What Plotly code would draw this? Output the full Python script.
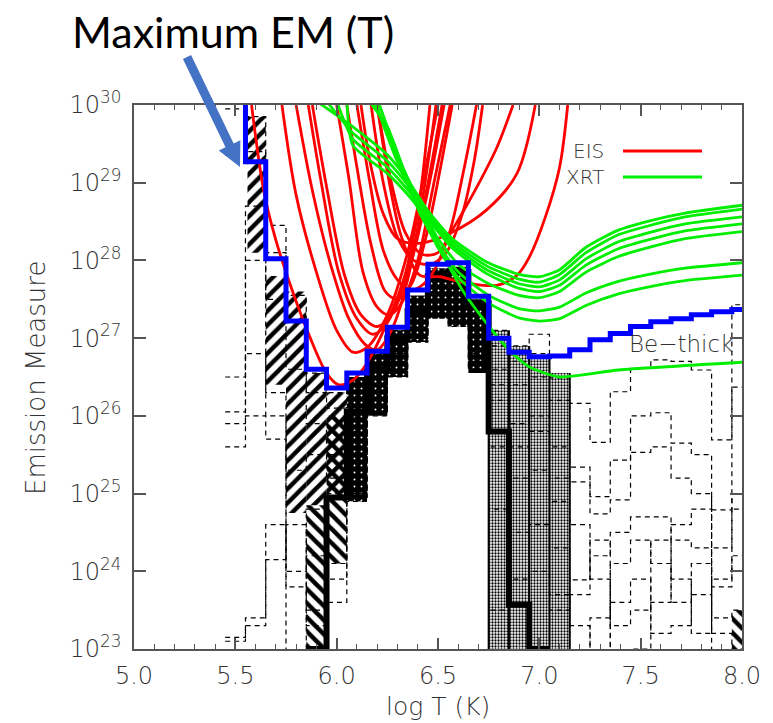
import numpy as np
import plotly.graph_objects as go

# ---------------------------------------------------------------------------
# Data (log10 of emission measure, cm^-5, versus log10 T)
# ---------------------------------------------------------------------------
BIN_EDGES = np.round(np.arange(5.45, 8.051, 0.1), 2)          # 27 edges, 26 bins (5.5 ... 8.0)

# Maximum EM(T) allowed by the observations (blue histogram); first bin lies above the frame
max_em = [31.0, 29.27, 28.02, 27.22, 26.60, 26.36, 26.55, 26.83, 27.14, 27.62, 27.95, 27.97,
          27.54, 27.00, 26.82, 26.76, 26.77, 26.85, 26.98, 27.06, 27.15, 27.21, 27.25, 27.30,
          27.34, 27.37]

# Best-fit DEM solution (thick black histogram), bins 5.9 ... 7.0
best_edges = np.round(np.arange(5.85, 7.051, 0.1), 2)
best_em = [23.0, 24.95, 26.05, 26.60, 27.00, 27.35, 27.80, 27.85, 27.45, 25.80, 23.57, 23.0]

# Monte-Carlo realisations (dashed histograms), bins 5.5 ... 8.0
mc_runs = [
    [29.95, 29.85, 28.45, 27.55, 26.55, 26.30, 26.45, 26.80, 27.10, 27.50, 27.85, 27.90, 27.45,
     27.10, 26.90, 27.05, 26.49, 26.16, 25.66, 26.31, 26.61, 26.72, 26.70, 26.59, 25.69, 27.43],
    [29.35, 29.40, 28.10, 27.20, 26.30, 26.10, 26.30, 26.60, 27.00, 27.40, 27.75, 27.80, 27.30,
     26.90, 26.70, 26.80, 26.20, 25.34, 24.96, 25.43, 26.00, 26.04, 25.65, 25.50, 24.79, 26.37],
    [26.05, 28.70, 27.50, 26.60, 25.90, 25.50, 26.00, 26.40, 26.80, 27.20, 27.50, 27.60, 27.10,
     26.60, 26.40, 26.50, 25.60, 25.15, 24.74, 24.92, 25.53, 25.60, 25.20, 25.00, 24.30, 25.00],
    [25.60, 28.00, 26.00, 25.30, 25.50, 25.20, 25.40, 26.20, 26.70, 27.10, 27.40, 27.35, 26.80,
     26.20, 25.90, 26.00, 24.90, 23.89, 24.20, 24.50, 24.70, 24.70, 24.40, 24.30, 23.80, 24.20],
    [23.15, 23.40, 24.15, 24.60, 23.50, 24.10, 25.00, 26.00, 26.50, 26.95, 27.30, 27.20, 26.60,
     25.60, 25.20, 25.30, 24.30, 22.50, 23.40, 24.10, 24.40, 24.10, 23.60, 24.10, 23.40, 23.50],
    [26.50, 26.80, 26.30, 22.50, 24.20, 23.60, 24.90, 26.10, 26.55, 27.00, 27.30, 27.15, 26.60,
     24.80, 24.50, 24.60, 23.70, 23.30, 22.50, 23.60, 23.90, 23.20, 23.30, 23.70, 22.50, 22.50],
    [25.90, 26.00, 25.70, 24.00, 24.80, 25.00, 25.80, 26.30, 26.80, 27.30, 27.60, 27.50, 27.00,
     26.40, 25.60, 25.80, 25.20, 24.60, 23.90, 23.30, 23.50, 24.40, 23.90, 23.20, 23.90, 24.80],
    [23.10, 23.30, 24.60, 23.80, 23.30, 23.90, 24.95, 26.05, 26.60, 27.00, 27.30, 27.30, 26.70,
     23.50, 23.90, 24.00, 23.50, 23.70, 24.40, 22.50, 23.00, 23.60, 24.60, 24.80, 23.20, 23.00],
]

# Spread of the Monte-Carlo solutions: densely populated band (bins 6.1 ... 6.7)
dense_edges = np.round(np.arange(6.05, 6.751, 0.1), 2)
dense_lo = [24.90, 26.00, 26.50, 26.95, 27.25, 27.15, 26.55]
dense_hi = [26.50, 26.80, 27.10, 27.55, 27.90, 27.92, 27.50]
# ... and the speckled columns reaching the floor (bins 6.8 ... 7.1)
speckle_edges = np.round(np.arange(6.75, 7.151, 0.1), 2)
speckle_lo = [23.0, 23.0, 23.0, 23.0]
speckle_hi = [27.10, 26.90, 26.75, 26.55]

# Hatched ranges of the low-temperature solutions
fwd_hatch_x0 = [5.56, 5.65, 5.75, 5.85, 5.95]
fwd_hatch_x1 = [5.65, 5.75, 5.85, 5.95, 6.05]
fwd_hatch_lo = [28.10, 26.40, 24.75, 24.85, 25.00]
fwd_hatch_hi = [29.85, 27.80, 27.60, 26.55, 26.30]
back_hatch_x0 = [5.85, 5.95, 6.05, 7.95]
back_hatch_x1 = [5.95, 6.05, 6.15, 8.00]
back_hatch_lo = [23.00, 24.10, 24.90, 23.00]
back_hatch_hi = [24.85, 26.00, 25.60, 23.50]

# EIS emission-measure loci (log T, log EM)
eis_loci = [
    ([5.58, 5.64, 5.70, 5.78, 5.87, 5.95, 6.01, 6.08, 6.15, 6.26, 6.34, 6.41, 6.46],
     [30.0, 28.90, 28.26, 27.62, 27.00, 26.55, 26.40, 26.46, 26.68, 27.27, 27.84, 28.80, 30.0]),
    ([5.73, 5.80, 5.90, 6.00, 6.08, 6.15, 6.25, 6.35, 6.44, 6.50],
     [30.0, 28.84, 27.85, 27.10, 26.82, 26.88, 27.30, 28.10, 29.20, 30.0]),
    ([5.80, 5.88, 5.97, 6.06, 6.14, 6.20, 6.27, 6.35, 6.43, 6.49],
     [30.0, 28.90, 27.95, 27.25, 26.92, 26.85, 27.10, 27.75, 28.90, 30.0]),
    ([5.86, 5.92, 6.01, 6.10, 6.18, 6.25, 6.33, 6.42, 6.52],
     [30.0, 29.06, 27.85, 27.25, 27.05, 27.20, 27.70, 28.60, 30.0]),
    ([5.88, 5.95, 6.04, 6.12, 6.20, 6.28, 6.36, 6.45, 6.53],
     [30.0, 28.95, 27.80, 27.30, 27.15, 27.35, 27.90, 28.90, 30.0]),
    ([6.00, 6.06, 6.13, 6.20, 6.26, 6.32, 6.40, 6.48, 6.56],
     [30.0, 29.06, 27.85, 27.40, 27.30, 27.45, 28.00, 29.00, 30.0]),
    ([6.05, 6.10, 6.17, 6.24, 6.30, 6.37, 6.45, 6.52, 6.57],
     [30.0, 29.20, 28.20, 27.60, 27.50, 27.70, 28.40, 29.30, 30.0]),
    ([6.10, 6.16, 6.23, 6.30, 6.37, 6.45, 6.55, 6.63, 6.69],
     [30.0, 29.06, 28.13, 27.75, 27.62, 27.75, 28.30, 29.20, 30.0]),
    ([6.17, 6.23, 6.30, 6.38, 6.46, 6.54, 6.62, 6.68, 6.72],
     [30.0, 29.00, 28.30, 28.00, 27.95, 28.10, 28.60, 29.30, 30.0]),
    ([6.20, 6.27, 6.34, 6.42, 6.50, 6.57, 6.67, 6.79, 6.87],
     [30.0, 29.00, 28.35, 28.08, 28.10, 28.39, 28.84, 29.45, 30.0]),
    ([6.12, 6.17, 6.23, 6.30, 6.41, 6.56, 6.74, 6.89, 6.98],
     [30.0, 29.20, 28.60, 28.28, 28.22, 28.35, 28.65, 29.12, 30.0]),
    ([6.20, 6.26, 6.32, 6.41, 6.51, 6.62, 6.79, 6.89, 6.95, 7.03, 7.10, 7.14],
     [30.0, 29.00, 28.30, 27.81, 27.79, 27.72, 27.68, 27.81, 28.04, 28.56, 29.20, 30.0]),
]

# XRT emission-measure loci (log T, log EM)
xrt_t_a = [6.08, 6.25, 6.36, 6.45, 6.57, 6.74, 6.90, 7.00, 7.10, 7.23, 7.39, 7.56, 7.72, 8.00]
xrt_t_b = [6.25, 6.33, 6.41, 6.49, 6.60, 6.75, 6.90, 7.00, 7.10, 7.23, 7.39, 7.56, 7.72, 8.00]
xrt_loci = [
    ([5.90] + xrt_t_a,
     [30.05, 29.72, 29.36, 29.00, 28.64, 28.28, 27.98, 27.82, 27.79, 27.88, 28.17, 28.39, 28.52, 28.61, 28.71]),
    ([5.95] + xrt_t_a,
     [30.05, 29.64, 29.28, 28.94, 28.60, 28.24, 27.93, 27.76, 27.72, 27.82, 28.10, 28.33, 28.46, 28.56, 28.66]),
    ([6.00] + xrt_t_a,
     [30.05, 29.56, 29.20, 28.88, 28.57, 28.20, 27.88, 27.70, 27.66, 27.75, 28.02, 28.24, 28.37, 28.47, 28.56]),
    ([6.05] + xrt_t_a,
     [30.05, 29.48, 29.12, 28.82, 28.53, 28.16, 27.83, 27.64, 27.60, 27.68, 27.94, 28.15, 28.28, 28.38, 28.47]),
    ([6.16] + xrt_t_b,
     [30.05, 29.72, 29.18, 28.74, 28.32, 27.95, 27.70, 27.55, 27.52, 27.60, 27.85, 28.05, 28.18, 28.28, 28.37]),
    ([6.175] + xrt_t_b,
     [30.05, 29.66, 29.13, 28.70, 28.26, 27.85, 27.55, 27.38, 27.35, 27.40, 27.58, 27.73, 27.83, 27.90, 27.97]),
    ([6.19] + xrt_t_b,
     [30.05, 29.60, 29.08, 28.65, 28.21, 27.78, 27.45, 27.26, 27.22, 27.25, 27.42, 27.57, 27.67, 27.74, 27.81]),
    ([6.205, 6.30, 6.41, 6.51, 6.62, 6.74, 6.85, 6.95, 7.10, 7.39, 8.00],
     [30.05, 29.35, 28.61, 28.13, 27.62, 27.19, 26.85, 26.63, 26.50, 26.59, 26.69]),
]

X_TICKS = [5.0, 5.5, 6.0, 6.5, 7.0, 7.5, 8.0]
Y_DECADES = list(range(23, 31))

# ---------------------------------------------------------------------------
# Layout geometry
# ---------------------------------------------------------------------------
W, H = 773, 723
ML, MR, MT, MB = 134, 31, 105, 74
PW, PH = W - ML - MR, H - MT - MB
AXIS_FONT = dict(family="DejaVu Sans", size=24, color="#333333", weight=200)
FRAME = "#555555"


def em(v):
    return 10.0 ** float(v)


def px2paper(px, py):
    return (px - ML) / PW, (H - MB - py) / PH


def step_xy(edges, vals):
    """Coordinates for an 'hv' histogram outline."""
    xs = [float(e) for e in edges]
    ys = [em(v) for v in list(vals) + [vals[-1]]]
    return xs, ys


def band_poly(edges, lo, hi):
    """Closed outline of the region between two histograms."""
    xs, ys = [], []
    for i in range(len(hi)):
        xs += [edges[i], edges[i + 1]]
        ys += [hi[i], hi[i]]
    for i in reversed(range(len(lo))):
        xs += [edges[i + 1], edges[i]]
        ys += [lo[i], lo[i]]
    xs = [float(x) for x in xs + [xs[0]]]
    return xs, [em(v) for v in ys + [ys[0]]]


fig = go.Figure()

# hatched ranges
for x0s, x1s, los, his, shp in [
    (fwd_hatch_x0, fwd_hatch_x1, fwd_hatch_lo, fwd_hatch_hi, "/"),
    (back_hatch_x0, back_hatch_x1, back_hatch_lo, back_hatch_hi, "\\"),
]:
    for x0, x1, lo, hi in zip(x0s, x1s, los, his):
        xs, ys = band_poly([x0, x1], [lo], [hi])
        fig.add_trace(go.Scatter(
            x=xs, y=ys, mode="lines", fill="toself", line=dict(width=0),
            fillcolor="white",
            fillpattern=dict(shape=shp, fgcolor="black", bgcolor="rgba(0,0,0,0)",
                             fgopacity=1, size=10, solidity=0.45),
            hoverinfo="skip", showlegend=False))

# speckled Monte-Carlo columns reaching the floor
xs, ys = band_poly(speckle_edges, speckle_lo, speckle_hi)
fig.add_trace(go.Scatter(
    x=xs, y=ys, mode="lines", fill="toself", line=dict(width=0),
    fillcolor="white",
    fillpattern=dict(shape=".", fgcolor="black", bgcolor="white", fgopacity=1,
                     size=3, solidity=0.45),
    hoverinfo="skip", showlegend=False))
# column edges where the realisations pile up
vx, vy = [], []
for i in range(len(speckle_hi) + 1):
    top = max(speckle_hi[max(i - 1, 0)], speckle_hi[min(i, len(speckle_hi) - 1)])
    vx += [float(speckle_edges[i]), float(speckle_edges[i]), None]
    vy += [em(speckle_lo[0]), em(top), None]
fig.add_trace(go.Scatter(x=vx, y=vy, mode="lines", line=dict(color="black", width=2),
                         hoverinfo="skip", showlegend=False))

# densely populated Monte-Carlo band
xs, ys = band_poly(dense_edges, dense_lo, dense_hi)
fig.add_trace(go.Scatter(
    x=xs, y=ys, mode="lines", fill="toself", line=dict(width=0),
    fillcolor="black",
    fillpattern=dict(shape=".", fgcolor="white", bgcolor="black", fgopacity=1,
                     size=7, solidity=0.06),
    hoverinfo="skip", showlegend=False))

# dashed Monte-Carlo histograms
for run in mc_runs:
    xs, ys = step_xy(BIN_EDGES, run)
    fig.add_trace(go.Scatter(
        x=xs, y=ys, mode="lines", line=dict(color="black", width=1.2, dash="5px,4px", shape="hv"),
        hoverinfo="skip", showlegend=False))

# best-fit solution
xs, ys = step_xy(best_edges, best_em)
fig.add_trace(go.Scatter(x=xs, y=ys, mode="lines",
                         line=dict(color="black", width=6, shape="hv"),
                         hoverinfo="skip", showlegend=False))

# EM loci
for t, e in eis_loci:
    fig.add_trace(go.Scatter(x=t, y=[em(v) for v in e], mode="lines",
                             line=dict(color="#ff0000", width=2.8, shape="spline", smoothing=0.9),
                             hoverinfo="skip", showlegend=False))
for t, e in xrt_loci:
    fig.add_trace(go.Scatter(x=t, y=[em(v) for v in e], mode="lines",
                             line=dict(color="#00ee00", width=2.8, shape="spline", smoothing=0.6),
                             hoverinfo="skip", showlegend=False))

# maximum EM(T)
xs, ys = step_xy(BIN_EDGES, max_em)
fig.add_trace(go.Scatter(x=xs, y=ys, mode="lines",
                         line=dict(color="#0000ff", width=5, shape="hv"),
                         hoverinfo="skip", showlegend=False))

# ---------------------------------------------------------------------------
# Decorations: legend, labels, arrow
# ---------------------------------------------------------------------------
shapes = []
annotations = []
for label, color, py in [("EIS", "#ff0000", 151), ("XRT", "#00ee00", 177)]:
    x0, y0 = px2paper(623, py)
    x1, _ = px2paper(702, py)
    shapes.append(dict(type="line", xref="paper", yref="paper", x0=x0, x1=x1, y0=y0, y1=y0,
                       line=dict(color=color, width=2.8)))
    tx, _ = px2paper(606, py)
    annotations.append(dict(text=label, xref="paper", yref="paper", x=tx, y=y0,
                            xanchor="right", yanchor="middle", showarrow=False,
                            font=dict(family="DejaVu Sans", size=20, color="#333333", weight=200)))

bx, by = px2paper(735, 344)
annotations.append(dict(text="Be\u2212thick", xref="paper", yref="paper", x=bx, y=by,
                        xanchor="right", yanchor="middle", showarrow=False,
                        font=dict(family="DejaVu Sans", size=23, color="#333333", weight=200)))

tx, ty = px2paper(233, 32)
annotations.append(dict(text="Maximum EM (T)", xref="paper", yref="paper", x=tx, y=ty,
                        xanchor="center", yanchor="middle", showarrow=False,
                        font=dict(family="Lato", size=43, color="black", weight=400)))

# axis titles
ax_x, ax_y = px2paper(438, 706)
annotations.append(dict(text="log T (K)", xref="paper", yref="paper", x=ax_x, y=ax_y,
                        xanchor="center", yanchor="middle", showarrow=False,
                        font=dict(family="DejaVu Sans", size=25, color="#333333", weight=200)))
ay_x, ay_y = px2paper(36, 378)
annotations.append(dict(text="Emission Measure", xref="paper", yref="paper", x=ay_x, y=ay_y,
                        xanchor="center", yanchor="middle", showarrow=False, textangle=-90,
                        font=dict(family="DejaVu Sans", size=26, color="#333333", weight=200)))

# block arrow pointing at the top of the maximum-EM curve
S = np.array([187.0, 57.0])
T = np.array([240.0, 167.0])
u = (T - S) / np.linalg.norm(T - S)
p = np.array([u[1], -u[0]])
B = T - 24 * u
pts = [S + 4.5 * p, B + 4.5 * p, B + 12 * p, T, B - 12 * p, B - 4.5 * p, S - 4.5 * p]
path = ""
for i, (qx, qy) in enumerate(pts):
    a, b = px2paper(qx, qy)
    path += ("M" if i == 0 else "L") + f"{a:.5f},{b:.5f} "
path += "Z"
shapes.append(dict(type="path", xref="paper", yref="paper", path=path,
                   fillcolor="#4472c4", line=dict(width=0)))

fig.update_layout(
    width=W, height=H,
    margin=dict(l=ML, r=MR, t=MT, b=MB),
    paper_bgcolor="white", plot_bgcolor="white",
    shapes=shapes, annotations=annotations,
    showlegend=False,
)
fig.update_xaxes(
    range=[5.0, 8.0], tickvals=X_TICKS, ticktext=[f"{v:.1f}" for v in X_TICKS],
    ticks="inside", ticklen=11, tickwidth=1.5, tickcolor=FRAME,
    minor=dict(dtick=0.1, tick0=5.0, ticks="inside", ticklen=5, tickwidth=1.2, tickcolor=FRAME),
    showline=True, linecolor=FRAME, linewidth=1.5, mirror="ticks",
    showgrid=False, zeroline=False, tickfont=AXIS_FONT, ticklabelstandoff=4,
)
fig.update_yaxes(
    type="log", range=[23, 30],
    tickvals=[em(d) for d in Y_DECADES], ticktext=[f"10<sup>{d}</sup>" for d in Y_DECADES],
    ticks="inside", ticklen=12, tickwidth=1.5, tickcolor=FRAME,
    showline=True, linecolor=FRAME, linewidth=1.5, mirror="ticks",
    showgrid=False, zeroline=False, tickfont=AXIS_FONT, ticklabelstandoff=6,
)

fig.write_html("out.html")
